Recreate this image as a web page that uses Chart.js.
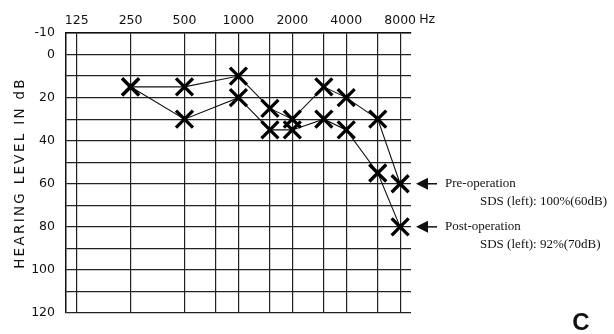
<!DOCTYPE html>
<html>
<head>
<meta charset="utf-8">
<script src="https://cdn.jsdelivr.net/npm/chart.js@4.4.0/dist/chart.umd.min.js"></script>
<style>
html, body { margin: 0; padding: 0; background: #fff; }
#wrap { width: 614px; height: 334px; position: relative; }
</style>
</head>
<body>
<div id="wrap"><canvas id="audiogram"></canvas></div>
<script>
// audiogram values
const FREQS = [250, 500, 1000, 1500, 2000, 3000, 4000, 6000, 8000];
const PRE_OP = [15, 15, 10, 25, 30, 15, 20, 30, 60];
const POST_OP = [15, 30, 20, 35, 35, 30, 35, 55, 80];

const FREQ_TICKS = [125, 250, 500, 750, 1000, 1500, 2000, 3000, 4000, 6000, 8000];
const FREQ_LABELS = ["125", "250", "500", "", "1000", "", "2000", "", "4000", "", "8000"];
const DB_TICKS = [-10, 0, 10, 20, 30, 40, 50, 60, 70, 80, 90, 100, 110, 120];
const DB_LABELS = ["-10", "0", "", "20", "", "40", "", "60", "", "80", "", "100", "", "120"];

const NOTES = [
    { db: 60, title: "Pre-operation", sds: "SDS (left): 100%(60dB)" },
    { db: 80, title: "Post-operation", sds: "SDS (left): 92%(70dB)" },
];

const INK = "#111";
const TICK_FONT = { family: "DejaVu Sans", size: 12.5 };

function series(values) {
    return FREQS.map((f, i) => ({ x: f, y: values[i] }));
}

function lineSet(label, values) {
    return {
        label: label,
        data: series(values),
        borderColor: INK,
        borderWidth: 1.1,
        tension: 0,
        fill: false,
        pointStyle: "crossRot",
        pointRadius: 12,
        pointBorderWidth: 3.3,
        pointBorderColor: "#000",
        pointHoverRadius: 12,
    };
}

// arrows, side notes, Hz, axis title and panel letter
const extras = {
    id: "extras",
    afterDraw(chart) {
        const { ctx, chartArea, scales } = chart;
        const x = scales.x, y = scales.y;
        ctx.save();
        ctx.fillStyle = INK;
        ctx.strokeStyle = INK;

        ctx.font = "12.5px 'DejaVu Sans'";
        ctx.textAlign = "left";
        ctx.textBaseline = "middle";
        ctx.fillText("Hz", x.getPixelForValue(8000) + 19, 20);

        // rotated y title with wide letter spacing
        ctx.save();
        ctx.translate(20, (chartArea.top + chartArea.bottom) / 2);
        ctx.rotate(-Math.PI / 2);
        ctx.font = "13.5px 'DejaVu Sans'";
        ctx.letterSpacing = "2.3px";
        ctx.textAlign = "center";
        ctx.fillText("HEARING LEVEL IN dB", 0, 0);
        ctx.restore();

        NOTES.forEach(n => {
            const py = y.getPixelForValue(n.db);
            const ax = chartArea.right + 5;
            ctx.beginPath();
            ctx.moveTo(ax, py);
            ctx.lineTo(ax + 12, py - 6);
            ctx.lineTo(ax + 12, py + 6);
            ctx.closePath();
            ctx.fill();
            ctx.lineWidth = 1.5;
            ctx.beginPath();
            ctx.moveTo(ax + 12, py);
            ctx.lineTo(ax + 21, py);
            ctx.stroke();

            ctx.font = "13px 'Liberation Serif'";
            ctx.textAlign = "left";
            ctx.fillText(n.title, ax + 29, py);
            ctx.fillText(n.sds, ax + 64, py + 18);
        });

        ctx.font = "bold 24px 'Liberation Sans'";
        ctx.textAlign = "center";
        ctx.fillText("C", 581, 323);
        ctx.restore();
    }
};

new Chart(document.getElementById("audiogram"), {
    type: "line",
    data: {
        datasets: [lineSet("Pre-operation", PRE_OP), lineSet("Post-operation", POST_OP)],
    },
    options: {
        responsive: true,
        maintainAspectRatio: false,
        animation: false,
        events: [],
        layout: { padding: { top: 0, left: 0, right: 203, bottom: 21 } },
        plugins: {
            legend: { display: false },
            tooltip: { enabled: false },
        },
        scales: {
            x: {
                type: "logarithmic",
                position: "top",
                min: 109,
                max: 9200,
                afterBuildTicks: s => { s.ticks = FREQ_TICKS.map(v => ({ value: v })); },
                afterFit: s => { s.height = 33; },
                ticks: {
                    autoSkip: false,
                    maxRotation: 0,
                    padding: 5,
                    color: INK,
                    font: TICK_FONT,
                    callback: v => FREQ_LABELS[FREQ_TICKS.indexOf(v)],
                },
                grid: { color: "#222", lineWidth: 1.2, drawTicks: false },
                border: { display: true, color: INK, width: 1.5 },
            },
            y: {
                type: "linear",
                reverse: true,
                min: -10,
                max: 120,
                afterBuildTicks: s => { s.ticks = DB_TICKS.map(v => ({ value: v })); },
                afterFit: s => { s.width = 66; },
                ticks: {
                    autoSkip: false,
                    padding: 11,
                    color: INK,
                    font: TICK_FONT,
                    callback: v => DB_LABELS[DB_TICKS.indexOf(v)],
                },
                grid: { color: "#222", lineWidth: 1.2, drawTicks: false },
                border: { display: true, color: INK, width: 1.5 },
            },
        },
    },
    plugins: [extras],
});
</script>
</body>
</html>
